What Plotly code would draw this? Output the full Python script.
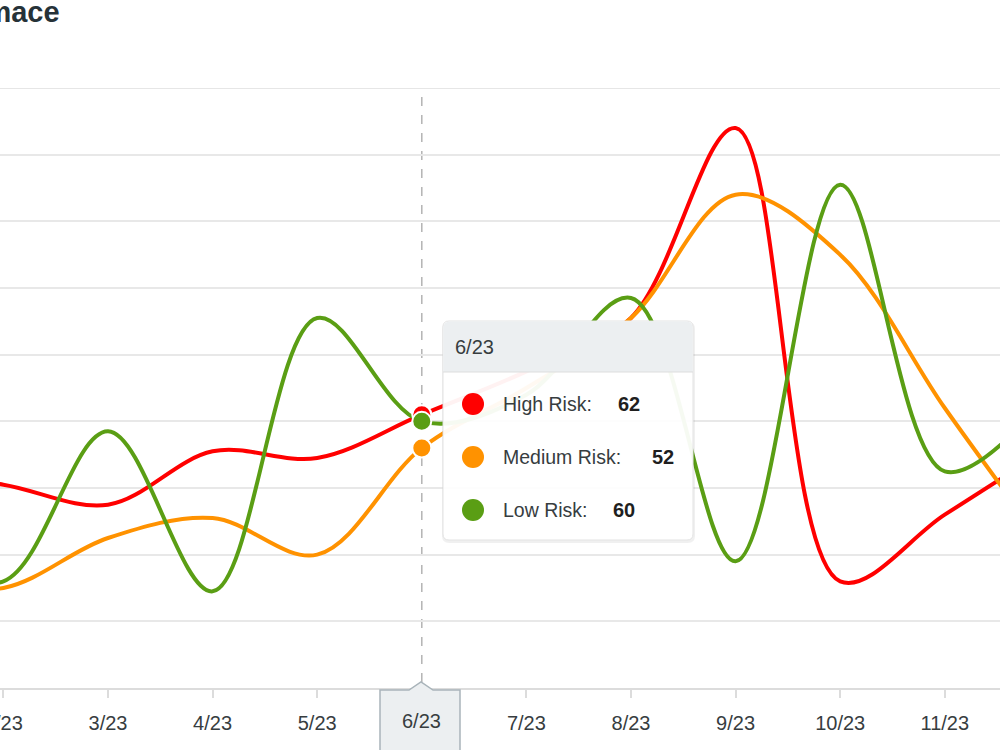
import plotly.graph_objects as go

# ---------------- data ----------------
months = ["1/23", "2/23", "3/23", "4/23", "5/23", "6/23", "7/23",
          "8/23", "9/23", "10/23", "11/23", "12/23"]
high_risk = [45, 41, 35, 51, 49, 62, 75, 91, 148, 12, 32, 52]
medium_risk = [12, 10, 25, 31, 20, 52, 70, 91, 128, 110, 64, 21]
low_risk = [20, 12, 57, 9, 91, 60, 68, 97, 18, 131, 45, 68]
series_names = ["High Risk", "Medium Risk", "Low Risk"]
series_colors = ["#ff0000", "#ff9200", "#5a9e14"]
title_text = "Performace"
hover_index = 5  # 6/23
y_min, y_max, y_step = -20, 160, 20

W, H = 1000, 750
ML, MR, MT, MB = 0, 0, 88, 62
PH = H - MT - MB
FONT = "Liberation Sans, Arial"


def px_x(x):
    return (x - ML) / (W - ML - MR)


def px_y(y):
    return (H - MB - y) / PH


xs = list(range(len(months)))
fig = go.Figure()
for name, vals, col in zip(series_names, [high_risk, medium_risk, low_risk], series_colors):
    fig.add_trace(go.Scatter(
        x=xs, y=vals, name=name, mode="lines",
        line=dict(color=col, width=4, shape="spline", smoothing=1.0),
        hoverinfo="skip", showlegend=False))

# hover markers
for name, vals, col in zip(series_names, [high_risk, medium_risk, low_risk], series_colors):
    fig.add_trace(go.Scatter(
        x=[xs[hover_index]], y=[vals[hover_index]], mode="markers",
        marker=dict(color=col, size=19, line=dict(color="white", width=2)),
        hoverinfo="skip", showlegend=False, cliponaxis=False))

shapes = []
annotations = []

# top gridline (Plotly omits a gridline that sits on the plot edge)
shapes.append(dict(type="line", xref="paper", yref="y", x0=0, x1=1, y0=y_max, y1=y_max,
                   line=dict(color="#e6e6e6", width=2), layer="below"))

# crosshair
shapes.append(dict(type="line", xref="x", yref="paper",
                   x0=xs[hover_index], x1=xs[hover_index], y0=px_y(682), y1=1,
                   line=dict(color="#b4b4b4", width=1.5, dash="dash"), layer="below"))


def rrect(x0, y0, x1, y1, r, top=True, bottom=True):
    rx, ry = r / W, r / PH
    X0, X1 = px_x(x0), px_x(x1)
    Y0, Y1 = px_y(y0), px_y(y1)  # Y0 top (larger), Y1 bottom
    p = []
    if top:
        p.append(f"M {X0+rx},{Y0} L {X1-rx},{Y0} Q {X1},{Y0} {X1},{Y0-ry}")
    else:
        p.append(f"M {X0},{Y0} L {X1},{Y0}")
    if bottom:
        p.append(f"L {X1},{Y1+ry} Q {X1},{Y1} {X1-rx},{Y1} L {X0+rx},{Y1} Q {X0},{Y1} {X0},{Y1+ry}")
    else:
        p.append(f"L {X1},{Y1} L {X0},{Y1}")
    if top:
        p.append(f"L {X0},{Y0-ry} Q {X0},{Y0} {X0+rx},{Y0} Z")
    else:
        p.append(f"L {X0},{Y0} Z")
    return " ".join(p)


# tooltip
tx0, ty0, tx1, ty1 = 443, 321, 693, 540
shapes.append(dict(type="path", xref="paper", yref="paper",
                   path=rrect(tx0 - 1, ty0 + 1, tx1 + 2, ty1 + 3, 7),
                   fillcolor="rgba(0,0,0,0.06)", line=dict(width=0), layer="above"))
shapes.append(dict(type="path", xref="paper", yref="paper",
                   path=rrect(tx0, ty0, tx1, ty1, 6),
                   fillcolor="rgba(255,255,255,0.95)", line=dict(color="#e3e3e3", width=1), layer="above"))
shapes.append(dict(type="path", xref="paper", yref="paper",
                   path=rrect(tx0 + 0.5, ty0 + 0.5, tx1 - 0.5, 372, 6, top=True, bottom=False),
                   fillcolor="#eceff1", line=dict(width=0), layer="above"))
shapes.append(dict(type="line", xref="paper", yref="paper",
                   x0=px_x(tx0), x1=px_x(tx1), y0=px_y(372), y1=px_y(372),
                   line=dict(color="#dddddd", width=1), layer="above"))
annotations.append(dict(xref="paper", yref="paper", x=px_x(453), y=px_y(347),
                        xanchor="left", yanchor="middle", showarrow=False,
                        text=months[hover_index],
                        font=dict(family=FONT, size=20, color="#373d3f")))
rows_y = [404, 457, 510]
val_x = [616, 650, 611]
for name, vals, col, ry, vx in zip(series_names, [high_risk, medium_risk, low_risk],
                                   series_colors, rows_y, val_x):
    r = 11
    shapes.append(dict(type="circle", xref="paper", yref="paper",
                       x0=px_x(473 - r), x1=px_x(473 + r), y0=px_y(ry + r), y1=px_y(ry - r),
                       fillcolor=col, line=dict(width=0), layer="above"))
    annotations.append(dict(xref="paper", yref="paper", x=px_x(501), y=px_y(ry),
                            xanchor="left", yanchor="middle", showarrow=False,
                            text=name + ":",
                            font=dict(family=FONT, size=19.5, color="#373d3f")))
    annotations.append(dict(xref="paper", yref="paper", x=px_x(vx), y=px_y(ry),
                            xanchor="left", yanchor="middle", showarrow=False,
                            text="<b>%d</b>" % vals[hover_index],
                            font=dict(family=FONT, size=20, color="#1f1f1f")))

# x-axis tooltip box
bx0, bx1, by0, by1 = 380, 460, 690, 760
cx = 421
xp = [px_x(v) for v in (bx0, cx - 12, cx, cx + 12, bx1)]
path = (f"M {xp[0]},{px_y(by0)} L {xp[1]},{px_y(by0)} L {xp[2]},{px_y(682)} "
        f"L {xp[3]},{px_y(by0)} L {xp[4]},{px_y(by0)} L {xp[4]},{px_y(by1)} "
        f"L {xp[0]},{px_y(by1)} Z")
shapes.append(dict(type="path", xref="paper", yref="paper", path=path,
                   fillcolor="#eceff1", line=dict(color="#a9b4ba", width=1.5), layer="above"))
annotations.append(dict(xref="paper", yref="paper", x=px_x(cx), y=px_y(721),
                        xanchor="center", yanchor="middle", showarrow=False,
                        text=months[hover_index],
                        font=dict(family=FONT, size=20, color="#373d3f")))

# title (cropped at the left edge, as in the reference)
annotations.append(dict(xref="paper", yref="paper", x=px_x(62), y=px_y(12),
                        xanchor="right", yanchor="middle", showarrow=False,
                        text="<b>%s</b>" % title_text,
                        font=dict(family=FONT, size=29, color="#263238")))

fig.update_layout(
    width=W, height=H,
    margin=dict(l=ML, r=MR, t=MT, b=MB, autoexpand=False),
    paper_bgcolor="white", plot_bgcolor="white",
    shapes=shapes, annotations=annotations,
    xaxis=dict(range=[0.9675, 10.528], tickmode="array", tickvals=xs, ticktext=months,
               showgrid=False, zeroline=False, showline=True, linecolor="#dcdcdc", linewidth=2,
               ticks="outside", ticklen=8, tickwidth=2, tickcolor="#dcdcdc",
               ticklabelstandoff=8, ticklabeloverflow="allow", automargin=False,
               tickfont=dict(family=FONT, size=20, color="#373d3f")),
    yaxis=dict(range=[y_min, y_max], dtick=y_step, showgrid=True, gridcolor="#e8e8e8", gridwidth=2,
               zeroline=False, showticklabels=False, showline=False, automargin=False),
    hovermode=False,
)

fig.write_html("out.html")
